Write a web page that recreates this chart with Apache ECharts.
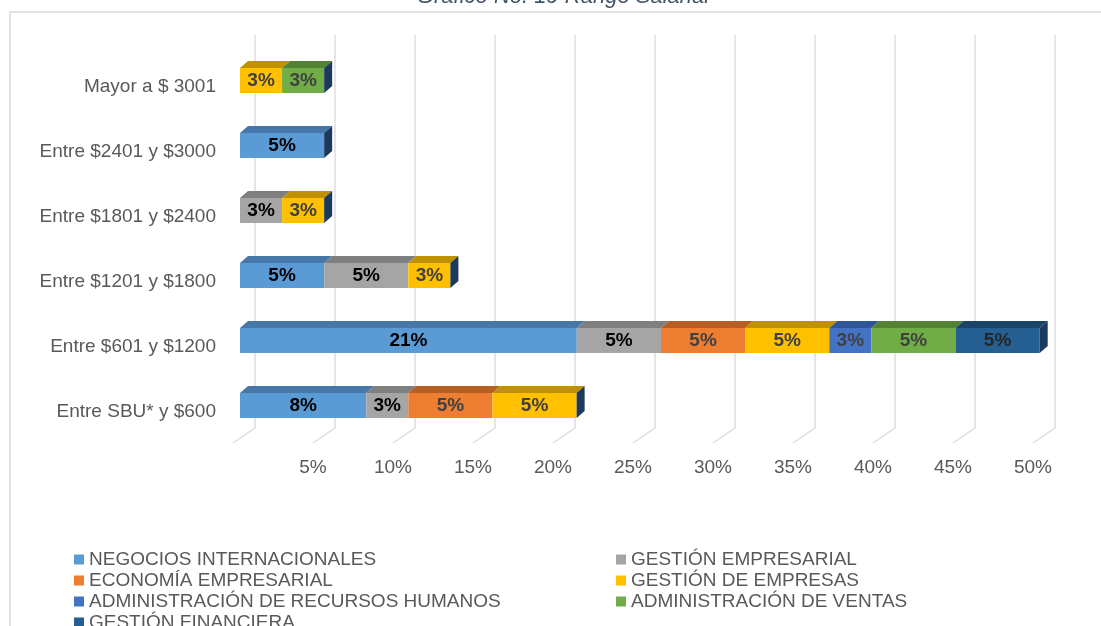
<!DOCTYPE html>
<html>
<head>
<meta charset="utf-8">
<title>Rango Salarial</title>
<script src="https://cdn.jsdelivr.net/npm/echarts@6/dist/echarts.min.js"></script>
<style>
  html, body { margin: 0; padding: 0; background: #fff; }
  #chart { width: 1101px; height: 626px; }
</style>
</head>
<body>
<div id="chart"></div>
<script>
  // categorías (de abajo hacia arriba)
  const categories = [
    'Entre SBU* y $600',
    'Entre $601 y $1200',
    'Entre $1201 y $1800',
    'Entre $1801 y $2400',
    'Entre $2401 y $3000',
    'Mayor a $ 3001'
  ]

  const seriesNames = [
    'NEGOCIOS INTERNACIONALES',
    'GESTIÓN EMPRESARIAL',
    'ECONOMÍA EMPRESARIAL',
    'GESTIÓN DE EMPRESAS',
    'ADMINISTRACIÓN DE RECURSOS HUMANOS',
    'ADMINISTRACIÓN DE VENTAS',
    'GESTIÓN FINANCIERA'
  ]

  // porcentajes por carrera (null = sin dato)
  const negocios = [7.89, 21.05, 5.26, null, 5.26, null]
  const gestionEmp = [2.63, 5.26, 5.26, 2.63, null, null]
  const economia = [5.26, 5.26, null, null, null, null]
  const gestionEmpresas = [5.26, 5.26, 2.63, 2.63, null, 2.63]
  const rrhh = [null, 2.63, null, null, null, null]
  const ventas = [null, 5.26, null, null, null, 2.63]
  const financiera = [null, 5.26, null, null, null, null]

  const seriesValues = [negocios, gestionEmp, economia, gestionEmpresas, rrhh, ventas, financiera]

  const xTicks = [0, 5, 10, 15, 20, 25, 30, 35, 40, 45, 50]

  const colors = ['#5B9BD5', '#A5A5A5', '#ED7D31', '#FFC000', '#4472C4', '#70AD47', '#255E91']
  const topColors = ['#4677A8', '#7F7F7F', '#B65E24', '#BF9000', '#2F5597', '#548235', '#1B4469']
  const labelColors = ['#000000', '#000000', '#404040', '#404040', '#404040', '#404040', '#262626']
  const SIDE_COLOR = '#1B3A5C'
  const BAR_W = 25
  const DX = 8, DY = 7

  // segmentos para las caras superior/lateral
  const depthData = []
  categories.forEach((c, ci) => {
    let acc = 0
    let lastIdx = -1
    seriesValues.forEach((arr, si) => { if (arr[ci] != null) lastIdx = si })
    seriesValues.forEach((arr, si) => {
      const v = arr[ci]
      if (v == null) return
      depthData.push([acc, acc + v, ci, si, si === lastIdx ? 1 : 0])
      acc += v
    })
  })

  const fontFamily = '"Liberation Sans", Arial, sans-serif'

  const chart = echarts.init(document.getElementById('chart'))

  const barSeries = seriesNames.map((name, i) => ({
    name: name,
    type: 'bar',
    stack: 'total',
    barWidth: BAR_W,
    z: 3,
    itemStyle: { color: colors[i] },
    label: {
      show: true,
      position: 'inside',
      formatter: p => Math.round(p.value) + '%',
      color: labelColors[i],
      fontWeight: 'bold',
      fontSize: 19,
      fontFamily: fontFamily
    },
    emphasis: { disabled: true },
    data: seriesValues[i]
  }))

  const legendText = { color: '#595959', fontSize: 19, lineHeight: 21, fontFamily: fontFamily }

  const option = {
    animation: false,
    title: {
      text: 'Gráfico No. 19 Rango Salarial',
      left: 558,
      textAlign: 'center',
      top: -19,
      textStyle: {
        color: '#44546A',
        fontStyle: 'italic',
        fontWeight: 'normal',
        fontSize: 22,
        fontFamily: fontFamily
      }
    },
    graphic: [{
      type: 'rect',
      shape: { x: 10, y: 12, width: 1200, height: 700 },
      style: { fill: 'none', stroke: '#D9D9D9', lineWidth: 1.5 },
      silent: true
    }],
    legend: [
      {
        orient: 'vertical',
        left: 74,
        top: 549,
        height: 120,
        padding: 0,
        itemGap: 0,
        itemWidth: 10,
        itemHeight: 10,
        icon: 'rect',
        data: [seriesNames[0], seriesNames[2], seriesNames[4], seriesNames[6]],
        textStyle: legendText
      },
      {
        orient: 'vertical',
        left: 616,
        top: 549,
        height: 120,
        padding: 0,
        itemGap: 0,
        itemWidth: 10,
        itemHeight: 10,
        icon: 'rect',
        data: [seriesNames[1], seriesNames[3], seriesNames[5]],
        textStyle: legendText
      }
    ],
    grid: [
      { left: 240, width: 800, top: 48, height: 390 },
      // rejilla desplazada sólo para las etiquetas de categoría
      { left: 240, width: 800, top: 54, height: 390 }
    ],
    xAxis: [
      {
        type: 'value',
        gridIndex: 0,
        min: 0,
        max: 50,
        interval: 5,
        axisLine: { show: false },
        axisTick: { show: false },
        splitLine: { show: false },
        axisLabel: {
          formatter: v => (v === 0 ? '' : v + '%'),
          color: '#595959',
          fontSize: 19,
          fontFamily: fontFamily,
          margin: 20,
          padding: [0, 14, 0, 0]
        }
      },
      { type: 'value', gridIndex: 1, show: false, min: 0, max: 50 }
    ],
    yAxis: [
      {
        type: 'category',
        gridIndex: 0,
        data: categories,
        axisLine: { show: false },
        axisTick: { show: false },
        axisLabel: { show: false }
      },
      {
        type: 'category',
        gridIndex: 1,
        data: categories,
        axisLine: { show: false },
        axisTick: { show: false },
        axisLabel: {
          color: '#595959',
          fontSize: 19,
          fontFamily: fontFamily,
          margin: 24
        }
      }
    ],
    series: [
      {
        name: 'pared',
        type: 'custom',
        silent: true,
        z: 1,
        data: xTicks.map(v => [v]),
        encode: { x: 0 },
        renderItem: (params, api) => {
          const x = api.coord([api.value(0), 0])[0]
          const cs = params.coordSys
          const bottom = cs.y + cs.height
          return {
            type: 'polyline',
            shape: { points: [[x + 15, cs.y - 13], [x + 15, bottom - 10], [x - 7, bottom + 5]] },
            style: { stroke: '#D9D9D9', lineWidth: 1.3, fill: 'none' }
          }
        }
      },
      ...barSeries,
      {
        name: 'profundidad',
        type: 'custom',
        silent: true,
        z: 4,
        data: depthData,
        encode: { x: [0, 1], y: 2 },
        renderItem: (params, api) => {
          const p0 = api.coord([api.value(0), api.value(2)])
          const p1 = api.coord([api.value(1), api.value(2)])
          const si = api.value(3)
          const yTop = p0[1] - BAR_W / 2
          const yBot = p0[1] + BAR_W / 2
          const children = [{
            type: 'polygon',
            shape: { points: [[p0[0], yTop], [p1[0], yTop], [p1[0] + DX, yTop - DY], [p0[0] + DX, yTop - DY]] },
            style: { fill: topColors[si] }
          }]
          if (api.value(4) === 1) {
            children.push({
              type: 'polygon',
              shape: { points: [[p1[0], yTop], [p1[0] + DX, yTop - DY], [p1[0] + DX, yBot - DY], [p1[0], yBot]] },
              style: { fill: SIDE_COLOR }
            })
          }
          return { type: 'group', children: children }
        }
      }
    ]
  }

  chart.setOption(option)
</script>
</body>
</html>
